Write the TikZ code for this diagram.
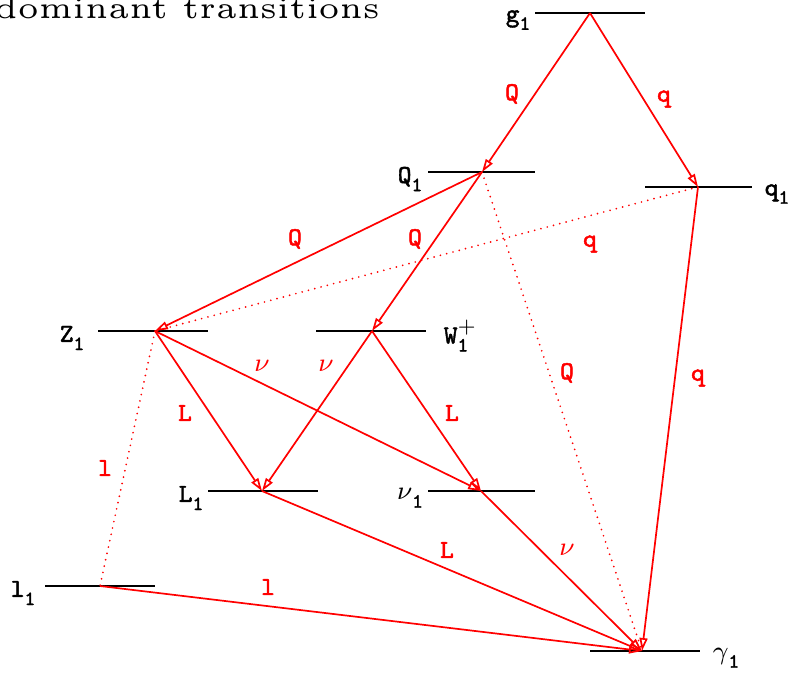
\documentclass[tikz,border=0pt]{standalone}
\usepackage{fontspec}
\usetikzlibrary{arrows.meta}
\newfontfamily\labfont{lmmono8-regular.otf}[FakeBold=1.6]
\newcommand\lab[1]{\scalebox{3.25}{\fontsize{8}{9}\labfont\bfseries #1}}
\newcommand\lsub[1]{\raisebox{-2.5pt}{\fontsize{6.2}{7}\labfont\bfseries #1}}
\newcommand\lsup[1]{\raisebox{3.2pt}{\fontsize{6.2}{7}\selectfont #1}}
\begin{document}
\begin{tikzpicture}[x=1pt,y=-1pt,
  level/.style={draw=black, line width=1.9pt},
  trans/.style={draw=red, line width=1.7pt, -{Triangle[open,length=13pt,width=8pt]}},
  weak/.style={draw=red, line width=1.9pt, line cap=round, dash pattern=on 0pt off 6.5pt},
  lvlabel/.style={inner sep=0pt, text=black},
  tlabel/.style={inner sep=0pt, text=red}]
\useasboundingbox (0,0) rectangle (792,673);

% title
\node[anchor=base east, inner sep=0pt] (title) at (380,18)
  {\resizebox{385pt}{!}{\fontsize{5}{6}\selectfont dominant transitions}};

% level vertices
\coordinate (g) at (590,13);
\coordinate (Q) at (482,172);
\coordinate (q) at (698,187);
\coordinate (Z) at (155,331);
\coordinate (W) at (372,331);
\coordinate (L) at (262,491);
\coordinate (n) at (481,491);
\coordinate (l) at (100,586);
\coordinate (y) at (642,651);

% level line ends
\coordinate (gA) at (535,13);  \coordinate (gB) at (645,13);
\coordinate (QA) at (428,172); \coordinate (QB) at (535,172);
\coordinate (qA) at (645,187); \coordinate (qB) at (752,187);
\coordinate (ZA) at (98,331);  \coordinate (ZB) at (208,331);
\coordinate (WA) at (316,331); \coordinate (WB) at (426,331);
\coordinate (LA) at (208,491); \coordinate (LB) at (318,491);
\coordinate (nA) at (428,491); \coordinate (nB) at (535,491);
\coordinate (lA) at (45,586);  \coordinate (lB) at (155,586);
\coordinate (yA) at (590,651); \coordinate (yB) at (700,651);

\draw[level] (gA) -- (gB);
\draw[level] (QA) -- (QB);
\draw[level] (qA) -- (qB);
\draw[level] (ZA) -- (ZB);
\draw[level] (WA) -- (WB);
\draw[level] (LA) -- (LB);
\draw[level] (nA) -- (nB);
\draw[level] (lA) -- (lB);
\draw[level] (yA) -- (yB);

% level labels
\node[lvlabel] (tg) at (518,20) {\lab{g\lsub{1}}};
\node[lvlabel] (tQ) at (410,179) {\lab{Q\lsub{1}}};
\node[lvlabel] (tq) at (777,194) {\lab{q\lsub{1}}};
\node[lvlabel] (tZ) at (72,338) {\lab{Z\lsub{1}}};
\node[lvlabel] (tW) at (456,336) {\lab{W\rlap{\lsup{$+$}}\lsub{1}}};
\node[lvlabel] (tL) at (191,498) {\lab{L\lsub{1}}};
\node[lvlabel] (tn) at (410,498) {\lab{$\nu$\lsub{1}}};
\node[lvlabel] (tl) at (23,593) {\lab{l\lsub{1}}};
\node[lvlabel] (ty) at (726,658) {\lab{$\gamma$\lsub{1}}};

% transitions
\draw[trans] (g) -- (Q);
\draw[trans] (g) -- (q);
\draw[trans] (Q) -- (Z);
\draw[trans] (Q) -- (W);
\draw[weak]  (Q) -- (y);
\draw[weak]  (q) -- (Z);
\draw[trans] (q) -- (y);
\draw[trans] (Z) -- (L);
\draw[trans] (Z) -- (n);
\draw[weak]  (Z) -- (l);
\draw[trans] (W) -- (L);
\draw[trans] (W) -- (n);
\draw[trans] (L) -- (y);
\draw[trans] (n) -- (y);
\draw[trans] (l) -- (y);

% transition labels
\node[tlabel] (e1) at (512,94) {\lab{Q}};
\node[tlabel] (e2) at (664,99) {\lab{q}};
\node[tlabel] (e3) at (295,239) {\lab{Q}};
\node[tlabel] (e4) at (415,239) {\lab{Q}};
\node[tlabel] (e5) at (590,244) {\lab{q}};
\node[tlabel] (e6) at (567,373) {\lab{Q}};
\node[tlabel] (e7) at (698,378) {\lab{q}};
\node[tlabel] (e8) at (262,366) {\lab{$\nu$}};
\node[tlabel] (e9) at (326,366) {\lab{$\nu$}};
\node[tlabel] (e10) at (185,413) {\lab{L}};
\node[tlabel] (e11) at (452,413) {\lab{L}};
\node[tlabel] (e12) at (105,468) {\lab{l}};
\node[tlabel] (e13) at (447,550) {\lab{L}};
\node[tlabel] (e14) at (567,550) {\lab{$\nu$}};
\node[tlabel] (e15) at (268,587) {\lab{l}};
\end{tikzpicture}
\end{document}
